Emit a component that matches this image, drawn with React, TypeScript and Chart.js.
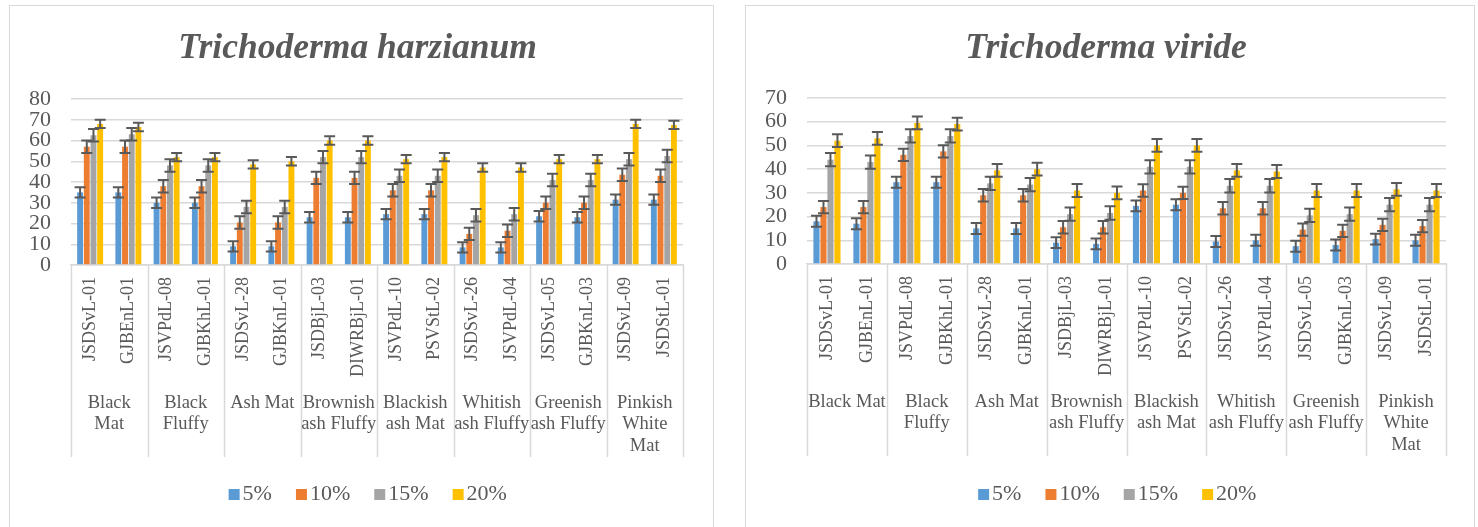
import React, { useEffect, useRef } from "react";
import { Chart, registerables } from "chart.js";

Chart.register(...registerables);

const isolates = [
  "JSDSvL-01", "GJBEnL-01", "JSVPdL-08", "GJBKhL-01", "JSDSvL-28", "GJBKnL-01",
  "JSDBjL-03", "DIWRBjL-01", "JSVPdL-10", "PSVStL-02", "JSDSvL-26", "JSVPdL-04",
  "JSDSvL-05", "GJBKnL-03", "JSDSvL-09", "JSDStL-01",
];

const groupsHarz = [
  ["Black", "Mat"], ["Black", "Fluffy"], ["Ash Mat"], ["Brownish", "ash Fluffy"],
  ["Blackish", "ash Mat"], ["Whitish", "ash Fluffy"], ["Greenish", "ash Fluffy"], ["Pinkish", "White", "Mat"],
];
const groupsViride = [
  ["Black Mat"], ["Black", "Fluffy"], ["Ash Mat"], ["Brownish", "ash Fluffy"],
  ["Blackish", "ash Mat"], ["Whitish", "ash Fluffy"], ["Greenish", "ash Fluffy"], ["Pinkish", "White", "Mat"],
];

const seriesLabels = ["5%", "10%", "15%", "20%"];

// Trichoderma harzianum
const harz5 = [35, 35, 30, 30, 9, 9, 23, 23, 24.5, 24.5, 8.5, 8.5, 23.5, 23, 31.5, 31.5];
const harz10 = [57, 57, 38, 38, 20.5, 20.5, 42, 42, 36, 36, 15, 16.5, 30, 30, 43.5, 43];
const harz15 = [62.5, 63, 48, 48, 28, 28, 52, 52, 43, 43, 24, 24.5, 41, 41, 51, 52.5];
const harz20 = [68, 66.5, 52, 52, 48.5, 50, 60, 60, 51, 52, 47, 47, 51, 51, 68, 67.5];
const harzErr5 = [2.5, 2.5, 2.5, 2.5, 2.5, 2.5, 2.5, 2.5, 2.5, 2.5, 2.5, 2.5, 2.5, 2.5, 2.5, 2.5];
const harzErr10 = [3, 3, 3, 3, 3, 3, 3, 3, 3, 3, 3, 3, 3, 3, 3, 3];
const harzErr15 = [3, 3, 3, 3, 3, 3, 3, 3, 3, 3, 3, 3, 3, 3, 3, 3];
const harzErr20 = [2, 2, 2, 2, 2, 2, 2, 2, 2, 2, 2, 2, 2, 2, 2, 2];

// Trichoderma viride
const viride5 = [18, 17, 34.5, 34.5, 15, 15, 9, 8.5, 24.5, 25, 9.5, 10, 7.5, 8, 10.5, 10];
const viride10 = [24, 24, 46, 47.5, 29, 29, 15.5, 15.5, 31, 30, 23.5, 23.5, 14.5, 14, 16.5, 16];
const viride15 = [44, 43, 54, 54, 34, 33.5, 21, 21.5, 41, 41, 33, 33, 20.5, 21, 25, 25];
const viride20 = [52, 53, 59.5, 59, 39.5, 40, 31, 30, 50, 50, 39.5, 39, 31, 31, 31.5, 31];
const viriErr5 = [2.3, 2.3, 2.3, 2.3, 2.3, 2.3, 2.3, 2.3, 2.3, 2.3, 2.3, 2.3, 2.3, 2.3, 2.3, 2.3];
const viriErr10 = [2.6, 2.6, 2.6, 2.6, 2.6, 2.6, 2.6, 2.6, 2.6, 2.6, 2.6, 2.6, 2.6, 2.6, 2.6, 2.6];
const viriErr15 = [2.8, 2.8, 2.8, 2.8, 2.8, 2.8, 2.8, 2.8, 2.8, 2.8, 2.8, 2.8, 2.8, 2.8, 2.8, 2.8];
const viriErr20 = [2.7, 2.7, 2.7, 2.7, 2.7, 2.7, 2.7, 2.7, 2.7, 2.7, 2.7, 2.7, 2.7, 2.7, 2.7, 2.7];

const COLORS = ["#5B9BD5", "#ED7D31", "#A5A5A5", "#FFC000"];
const TEXT = "#595959";
const GRID = "#d9d9d9";
const FONT = "'Liberation Serif', 'Times New Roman', serif";

const errorBarPlugin = {
  id: "errorBars",
  afterDatasetsDraw(chart: any, _args: any, opts: any) {
    const errs = opts.errors as number[][];
    if (!errs) return;
    const y = chart.scales.y;
    const ctx = chart.ctx;
    ctx.save();
    ctx.strokeStyle = "#595959";
    ctx.lineWidth = 2;
    chart.data.datasets.forEach((ds: any, i: number) => {
      const meta = chart.getDatasetMeta(i);
      meta.data.forEach((bar: any, j: number) => {
        const v = ds.data[j];
        const e = errs[i][j];
        const top = y.getPixelForValue(v + e);
        const bot = y.getPixelForValue(v - e);
        const cx = bar.x;
        ctx.beginPath();
        ctx.moveTo(cx, top);
        ctx.lineTo(cx, bot);
        ctx.moveTo(cx - 5.5, top);
        ctx.lineTo(cx + 5.5, top);
        ctx.moveTo(cx - 5.5, bot);
        ctx.lineTo(cx + 5.5, bot);
        ctx.stroke();
      });
    });
    ctx.restore();
  },
};

const groupAxisPlugin = {
  id: "groupAxis",
  afterDraw(chart: any, _args: any, opts: any) {
    const groups = opts.groups as string[][];
    if (!groups) return;
    const x = chart.scales.x;
    const ctx = chart.ctx;
    const per = x.ticks.length / groups.length;
    const boundary = (g: number) => {
      if (g === 0) return x.left;
      if (g === groups.length) return x.right;
      return (x.getPixelForTick(g * per - 1) + x.getPixelForTick(g * per)) / 2;
    };
    ctx.save();
    ctx.strokeStyle = GRID;
    ctx.lineWidth = 1.5;
    for (let g = 0; g <= groups.length; g++) {
      const bx = Math.round(boundary(g)) + 0.5;
      ctx.beginPath();
      ctx.moveTo(bx, x.top);
      ctx.lineTo(bx, x.top + opts.sepLength);
      ctx.stroke();
    }
    ctx.fillStyle = TEXT;
    ctx.font = `${opts.fontSize}px ${FONT}`;
    ctx.textAlign = "center";
    ctx.textBaseline = "middle";
    groups.forEach((lines, g) => {
      const cx = (boundary(g) + boundary(g + 1)) / 2;
      lines.forEach((ln, k) => {
        ctx.fillText(ln, cx, x.top + opts.labelTop + k * opts.lineHeight);
      });
    });
    ctx.restore();
  },
};

const chartTitlePlugin = {
  id: "chartTitle",
  afterDraw(chart: any, _args: any, opts: any) {
    if (!opts.text) return;
    const ctx = chart.ctx;
    ctx.save();
    ctx.fillStyle = TEXT;
    ctx.font = `italic bold ${opts.size}px ${FONT}`;
    ctx.textAlign = "center";
    ctx.textBaseline = "middle";
    ctx.fillText(opts.text, chart.width / 2 + opts.dx, opts.y);
    ctx.restore();
  },
};

function makeSwatch(color: string) {
  const c = document.createElement("canvas");
  c.width = 22;
  c.height = 11;
  const g = c.getContext("2d")!;
  g.fillStyle = color;
  g.fillRect(9, 0, 11, 11);
  return c;
}

type ChartProps = {
  title: string;
  series: number[][];
  errors: number[][];
  groups: string[][];
  yMax: number;
  width: number;
  height: number;
  padRight: number;
  padTop: number;
  axisHeight: number;
};

function BarChart(props: ChartProps) {
  const ref = useRef<HTMLCanvasElement | null>(null);
  useEffect(() => {
    if (!ref.current) return;
    const swatches = COLORS.map(makeSwatch);
    const blank = document.createElement("canvas");
    blank.width = 2;
    blank.height = 2;
    const chart = new Chart(ref.current, {
      type: "bar",
      data: {
        labels: isolates,
        datasets: props.series.map((d, i) => ({
          label: seriesLabels[i],
          data: d,
          backgroundColor: COLORS[i],
          borderWidth: 0,
          categoryPercentage: 0.7,
          barPercentage: 0.88,
        })),
      },
      options: {
        animation: false,
        responsive: false,
        devicePixelRatio: 1,
        layout: { padding: { left: 0, right: props.padRight, top: props.padTop, bottom: 31 } },
        plugins: {
          title: { display: false },
          legend: {
            position: "bottom",
            labels: {
              usePointStyle: true,
              pointStyleWidth: 2,
              boxWidth: 11,
              boxHeight: 11,
              color: TEXT,
              padding: 25,
              font: { family: FONT, size: 22 },
              generateLabels: (c: any) => {
                const items = (Chart as any).defaults.plugins.legend.labels.generateLabels(c);
                const styled = items.map((it: any, i: number) => ({ ...it, pointStyle: swatches[i], lineWidth: 0 }));
                // invisible leading spacer so the legend row sits where the reference has it
                return [
                  { text: " ", pointStyle: blank, fillStyle: "rgba(0,0,0,0)", strokeStyle: "rgba(0,0,0,0)", lineWidth: 0, hidden: false, datasetIndex: -1 },
                  ...styled,
                ];
              },
            },
          },
          tooltip: { enabled: false },
          errorBars: { errors: props.errors },
          groupAxis: { groups: props.groups, sepLength: 192, labelTop: 138, lineHeight: 21.5, fontSize: 18.5 },
          chartTitle: { text: props.title, size: 35.5, y: 42.5, dx: -4 },
        } as any,
        scales: {
          x: {
            grid: { display: false, drawTicks: false },
            border: { display: true, color: GRID, width: 1.5 },
            ticks: {
              autoSkip: false,
              maxRotation: 90,
              minRotation: 90,
              padding: 12,
              color: TEXT,
              font: { family: FONT, size: 18 },
            },
            afterFit: (s: any) => {
              s.height = props.axisHeight;
            },
          },
          y: {
            min: 0,
            max: props.yMax,
            grid: { color: GRID, lineWidth: 1.5, drawTicks: false },
            border: { display: false },
            ticks: {
              stepSize: 10,
              autoSkip: false,
              padding: 20,
              color: TEXT,
              font: { family: FONT, size: 22, lineHeight: 1 },
            },
            afterFit: (s: any) => {
              s.width = 61;
            },
          },
        },
      },
      plugins: [errorBarPlugin, groupAxisPlugin, chartTitlePlugin],
    });
    return () => chart.destroy();
  }, []);
  return <canvas ref={ref} width={props.width} height={props.height} style={{ display: "block" }} />;
}

export default function App() {
  return (
    <div>
      <div
        style={{
          position: "absolute",
          left: 9,
          top: 5,
          width: 703,
          height: 540,
          border: `1px solid ${GRID}`,
          background: "#fff",
        }}
      >
        <BarChart
          title="Trichoderma harzianum"
          series={[harz5, harz10, harz15, harz20]}
          errors={[harzErr5, harzErr10, harzErr15, harzErr20]}
          groups={groupsHarz}
          yMax={80}
          width={703}
          height={540}
          padRight={30}
          padTop={93}
          axisHeight={193}
        />
      </div>
      <div
        style={{
          position: "absolute",
          left: 745,
          top: 5,
          width: 728,
          height: 540,
          border: `1px solid ${GRID}`,
          background: "#fff",
        }}
      >
        <BarChart
          title="Trichoderma viride"
          series={[viride5, viride10, viride15, viride20]}
          errors={[viriErr5, viriErr10, viriErr15, viriErr20]}
          groups={groupsViride}
          yMax={70}
          width={728}
          height={540}
          padRight={28}
          padTop={92}
          axisHeight={194}
        />
      </div>
    </div>
  );
}
